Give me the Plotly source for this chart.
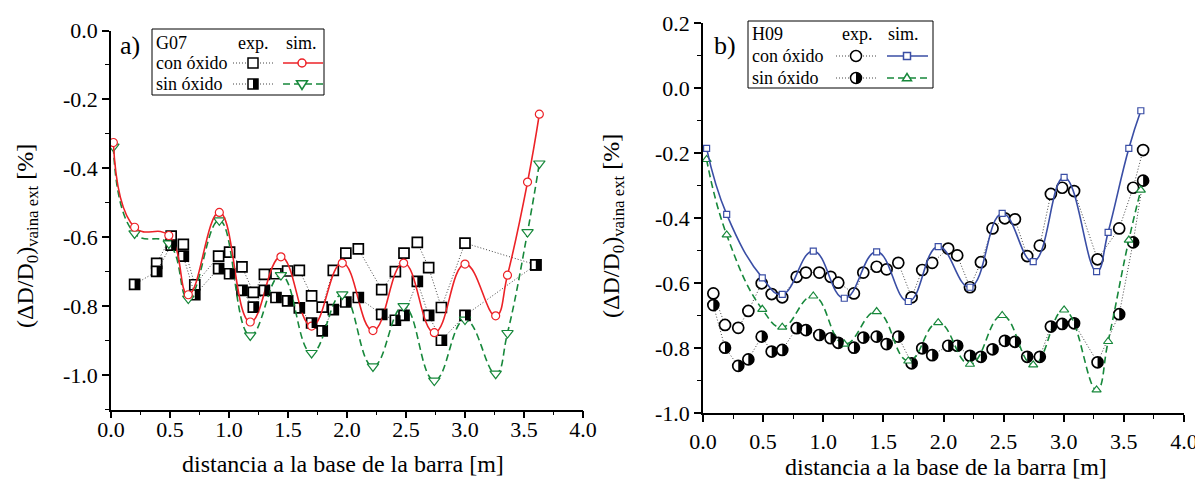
import plotly.graph_objects as go

# the page body has an 8px margin; figure sized so that it fits the 1203x479 window
OFF = 8
W, H = 1203 - OFF, 479 - OFF

# ---------------- data: panel a) G07 ----------------
sim_x_G = [0.02, 0.20, 0.49, 0.655, 0.918, 1.18, 1.44, 1.70, 1.96, 2.22, 2.48, 2.74, 3.00, 3.26, 3.36, 3.53, 3.63]
sim_con_G = [-0.325, -0.571, -0.595, -0.767, -0.528, -0.846, -0.657, -0.858, -0.675, -0.871, -0.675, -0.877, -0.678, -0.828, -0.71, -0.44, -0.243]
sim_sin_G = [-0.337, -0.589, -0.618, -0.778, -0.551, -0.885, -0.71, -0.936, -0.766, -0.975, -0.80, -1.016, -0.839, -0.996, -0.878, -0.585, -0.386]

exp_x_G = [0.20, 0.387, 0.51, 0.613, 0.71, 0.912, 1.005, 1.11, 1.206, 1.30, 1.398, 1.497, 1.596, 1.70, 1.79, 1.884,
           1.99, 2.096, 2.294, 2.41, 2.483, 2.596, 2.692, 2.80, 3.0, 3.6]
exp_con_G = [None, -0.676, -0.597, -0.621, -0.738, -0.655, -0.643, -0.686, -0.76, -0.708, -0.706, -0.698, -0.696, -0.77,
             -0.803, -0.696, -0.646, -0.634, -0.752, -0.70, -0.646, -0.615, -0.688, -0.804, -0.617, -0.68]
exp_sin_G = [-0.737, -0.699, -0.623, -0.655, -0.767, -0.691, -0.706, -0.754, -0.803, -0.754, -0.775, -0.785, -0.805, -0.849,
             -0.872, -0.81, -0.788, -0.775, -0.824, -0.841, -0.827, -0.728, -0.827, -0.899, -0.827, -0.68]

# ---------------- data: panel b) H09 ----------------
sim_x_H = [0.03, 0.197, 0.493, 0.659, 0.917, 1.175, 1.444, 1.707, 1.956, 2.22, 2.488, 2.746, 3.003, 3.273, 3.369, 3.541, 3.641]
sim_con_H = [-0.186, -0.389, -0.584, -0.635, -0.502, -0.647, -0.504, -0.657, -0.488, -0.613, -0.386, -0.534, -0.275, -0.565, -0.444, -0.186, -0.07]
sim_sin_H = [-0.22, -0.452, -0.681, -0.736, -0.64, -0.788, -0.688, -0.84, -0.722, -0.85, -0.70, -0.852, -0.683, -0.929, -0.78, -0.468, -0.314]

exp_x_H = [0.086, 0.183, 0.293, 0.377, 0.488, 0.571, 0.659, 0.779, 0.856, 0.967, 1.061, 1.125, 1.255, 1.333, 1.444, 1.527,
           1.624, 1.735, 1.823, 1.906, 2.039, 2.114, 2.22, 2.311, 2.408, 2.51, 2.594, 2.696, 2.801, 2.893, 2.987, 3.086,
           3.281, 3.461, 3.577, 3.66]
exp_con_H = [-0.632, -0.729, -0.738, -0.686, -0.601, -0.634, -0.644, -0.581, -0.568, -0.568, -0.581, -0.599, -0.632, -0.568,
             -0.55, -0.558, -0.538, -0.644, -0.56, -0.538, -0.494, -0.515, -0.613, -0.536, -0.432, -0.401, -0.404, -0.517,
             -0.485, -0.326, -0.307, -0.317, -0.527, -0.432, -0.307, -0.191]
exp_sin_H = [-0.668, -0.799, -0.855, -0.835, -0.765, -0.811, -0.806, -0.739, -0.745, -0.76, -0.77, -0.784, -0.799, -0.768,
             -0.765, -0.788, -0.765, -0.847, -0.801, -0.822, -0.793, -0.793, -0.824, -0.827, -0.804, -0.778, -0.781, -0.827,
             -0.827, -0.734, -0.726, -0.724, -0.844, -0.696, -0.475, -0.285]

# ---------------- tick labels ----------------
x_ticks = [0.0, 0.5, 1.0, 1.5, 2.0, 2.5, 3.0, 3.5, 4.0]
x_ticktext = ["0.0", "0.5", "1.0", "1.5", "2.0", "2.5", "3.0", "3.5", "4.0"]
yG_ticks = [0.0, -0.2, -0.4, -0.6, -0.8, -1.0]
yG_ticktext = ["0.0", "-0.2", "-0.4", "-0.6", "-0.8", "-1.0"]
yH_ticks = [0.2, 0.0, -0.2, -0.4, -0.6, -0.8, -1.0]
yH_ticktext = ["0.2", "0.0", "-0.2", "-0.4", "-0.6", "-0.8", "-1.0"]

FONT = "Liberation Serif, Times New Roman, serif"
RED = "#ec2227"
GREEN = "#17883b"
BLUE = "#3a4ea5"
DOT = "#444444"

fig = go.Figure()

def exp_trace(x, y, sym, size, xa, ya):
    fig.add_trace(go.Scatter(
        x=x, y=y, mode="lines+markers", xaxis=xa, yaxis=ya, showlegend=False,
        line=dict(color=DOT, width=1, dash="1px,2px"),
        marker=dict(symbol=sym, size=size, color="white", line=dict(color="black", width=1.7)),
    ))

def sim_trace(x, y, color, dash, sym, size, xa, ya):
    fig.add_trace(go.Scatter(
        x=x, y=y, mode="lines+markers", xaxis=xa, yaxis=ya, showlegend=False,
        line=dict(color=color, width=1.6, dash=dash, shape="spline", smoothing=1.3),
        marker=dict(symbol=sym, size=size, color="white", line=dict(color=color, width=1.2)),
    ))

# panel a
exp_trace(exp_x_G, exp_con_G, "square", 10, "x", "y")
exp_trace(exp_x_G, exp_sin_G, "square", 10, "x", "y")
sim_trace(sim_x_G, sim_sin_G, GREEN, "7px,4px", "triangle-down", 10, "x", "y")
sim_trace(sim_x_G, sim_con_G, RED, "solid", "circle", 8, "x", "y")
# panel b
exp_trace(exp_x_H, exp_con_H, "circle", 11, "x2", "y2")
exp_trace(exp_x_H, exp_sin_H, "circle", 11, "x2", "y2")
sim_trace(sim_x_H, sim_sin_H, GREEN, "7px,4px", "triangle-up", 8, "x2", "y2")
sim_trace(sim_x_H, sim_con_H, BLUE, "solid", "square", 6, "x2", "y2")

shapes = []
# half-filled (right half black) markers for "sin óxido" experiments
for xv, yv in zip(exp_x_G, exp_sin_G):
    shapes.append(dict(type="rect", xref="x", yref="y", xsizemode="pixel", ysizemode="pixel",
                       xanchor=xv, yanchor=yv, x0=0, x1=5.2, y0=-5, y1=5,
                       fillcolor="black", line=dict(width=0), layer="above"))
r = 5.5
k = 0.5523 * r
half_circle = f"M0,{-r} C{k},{-r} {r},{-k} {r},0 C{r},{k} {k},{r} 0,{r} Z"
for xv, yv in zip(exp_x_H, exp_sin_H):
    shapes.append(dict(type="path", xref="x2", yref="y2", xsizemode="pixel", ysizemode="pixel",
                       xanchor=xv, yanchor=yv, path=half_circle,
                       fillcolor="black", line=dict(width=0), layer="above"))

# window-pixel -> paper coordinates
def px(v):
    return (v - OFF) / W

def py(v):
    return 1 - (v - OFF) / H

annotations = []

def text(t, x, y, size, xanchor="left", **kw):
    annotations.append(dict(text=t, x=px(x), y=py(y), xref="paper", yref="paper", showarrow=False,
                            xanchor=xanchor, yanchor="middle", font=dict(family=FONT, size=size, color="black"), **kw))

def pline(x0, x1, y, color, dash, width):
    shapes.append(dict(type="line", xref="paper", yref="paper", x0=px(x0), x1=px(x1), y0=py(y), y1=py(y),
                       line=dict(color=color, width=width, dash=dash), layer="above"))

def pmark(kind, x, y, color, fill, s, half=False):
    base = dict(xref="paper", yref="paper", xsizemode="pixel", ysizemode="pixel", xanchor=px(x), yanchor=py(y),
                layer="above", fillcolor=fill, line=dict(color=color, width=1.5))
    if kind == "rect":
        shapes.append(dict(type="rect", x0=-s, x1=s, y0=-s, y1=s, **base))
    elif kind == "circle":
        shapes.append(dict(type="circle", x0=-s, x1=s, y0=-s, y1=s, **base))
    elif kind == "tdown":
        shapes.append(dict(type="path", path=f"M{-s},{s*0.6} L{s},{s*0.6} L0,{-s} Z", **base))
    elif kind == "tup":
        shapes.append(dict(type="path", path=f"M{-s},{-s*0.6} L{s},{-s*0.6} L0,{s} Z", **base))
    if half:
        if kind == "rect":
            shapes.append(dict(type="rect", xref="paper", yref="paper", xsizemode="pixel", ysizemode="pixel",
                               xanchor=px(x), yanchor=py(y), x0=0, x1=s, y0=-s, y1=s,
                               fillcolor="black", line=dict(width=0), layer="above"))
        else:
            kk = 0.5523 * s
            shapes.append(dict(type="path", xref="paper", yref="paper", xsizemode="pixel", ysizemode="pixel",
                               xanchor=px(x), yanchor=py(y),
                               path=f"M0,{-s} C{kk},{-s} {s},{-kk} {s},0 C{s},{kk} {kk},{s} 0,{s} Z",
                               fillcolor="black", line=dict(width=0), layer="above"))

# ---- legend a) ----
shapes.append(dict(type="rect", xref="paper", yref="paper", x0=px(152), x1=px(324), y0=py(95), y1=py(29),
                   line=dict(color="black", width=1), fillcolor="rgba(0,0,0,0)", layer="above"))
text("G07", 154, 43, 18)
text("exp.", 253, 43, 18, xanchor="center")
text("sim.", 301, 43, 18, xanchor="center")
text("con óxido", 154, 63, 18)
text("sin óxido", 154, 84, 18)
pline(233, 273, 63, DOT, "1px,2px", 1)
pline(233, 273, 84, DOT, "1px,2px", 1)
pmark("rect", 253, 63, "black", "white", 5)
pmark("rect", 253, 84, "black", "white", 5, half=True)
pline(283, 323, 63, RED, "solid", 1.6)
pline(283, 323, 84, GREEN, "7px,4px", 1.6)
pmark("circle", 302, 63, RED, "white", 4)
pmark("tdown", 302, 84, GREEN, "white", 5.5)

# ---- legend b) ----
shapes.append(dict(type="rect", xref="paper", yref="paper", x0=px(748), x1=px(933), y0=py(88), y1=py(21),
                   line=dict(color="black", width=1), fillcolor="rgba(0,0,0,0)", layer="above"))
text("H09", 750, 34, 18)
text("exp.", 857, 34, 18, xanchor="center")
text("sim.", 903, 34, 18, xanchor="center")
text("con óxido", 750, 56, 18)
text("sin óxido", 750, 78, 18)
pline(836, 877, 56, DOT, "1px,2px", 1)
pline(836, 877, 78, DOT, "1px,2px", 1)
pmark("circle", 856, 56, "black", "white", 5.5)
pmark("circle", 856, 78, "black", "white", 5.5, half=True)
pline(887, 928, 56, BLUE, "solid", 1.6)
pline(887, 928, 78, GREEN, "7px,4px", 1.6)
pmark("rect", 907, 56, BLUE, "white", 3.5)
pmark("tup", 907, 78, GREEN, "white", 4.5)

# panel letters
text("a)", 118, 46, 26)
text("b)", 712, 46, 26)

# axis titles
ytitle = "(ΔD/D<sub>0</sub>)<sub>vaina ext</sub> [%]"
text(ytitle, 27, 236, 24, xanchor="center", textangle=-90)
text(ytitle, 613, 226, 24, xanchor="center", textangle=-90)
text("distancia a la base de la barra [m]", 343, 464, 24, xanchor="center")
text("distancia a la base de la barra [m]", 946, 467, 24, xanchor="center")

axis_common = dict(showline=True, linecolor="black", linewidth=1.5, mirror=False, zeroline=False, showgrid=False,
                   ticks="outside", ticklen=7, tickwidth=1.5, tickcolor="black", automargin=False,
                   tickfont=dict(family=FONT, size=22, color="black"), tickmode="array")

fig.update_layout(
    width=W, height=H, margin=dict(l=0, r=0, t=0, b=0, autoexpand=False),
    paper_bgcolor="white", plot_bgcolor="white", showlegend=False,
    xaxis=dict(domain=[px(111), px(583)], range=[0, 4], anchor="y", tickvals=x_ticks, ticktext=x_ticktext,
               ticklabelstandoff=-8,
               minor=dict(tickmode="linear", tick0=0, dtick=0.25, ticks="outside", ticklen=4, tickwidth=1.2,
                          tickcolor="black"), **axis_common),
    yaxis=dict(domain=[py(409.5), py(30.5)], range=[-1.1, 0], anchor="x", tickvals=yG_ticks,
               ticktext=yG_ticktext,
               minor=dict(tickmode="linear", tick0=0, dtick=0.1, ticks="outside", ticklen=4, tickwidth=1.2,
                          tickcolor="black"), **axis_common),
    xaxis2=dict(domain=[px(703), px(1184)], range=[0, 4], anchor="y2", tickvals=x_ticks, ticktext=x_ticktext,
                ticklabelstandoff=1,
                minor=dict(tickmode="linear", tick0=0, dtick=0.25, ticks="outside", ticklen=4, tickwidth=1.2,
                           tickcolor="black"), **axis_common),
    yaxis2=dict(domain=[py(413), py(23)], range=[-1.0, 0.2], anchor="x2", tickvals=yH_ticks,
                ticktext=yH_ticktext,
                minor=dict(tickmode="linear", tick0=0, dtick=0.1, ticks="outside", ticklen=4, tickwidth=1.2,
                           tickcolor="black"), **axis_common),
    shapes=shapes, annotations=annotations,
)

fig.write_html("out.html")
